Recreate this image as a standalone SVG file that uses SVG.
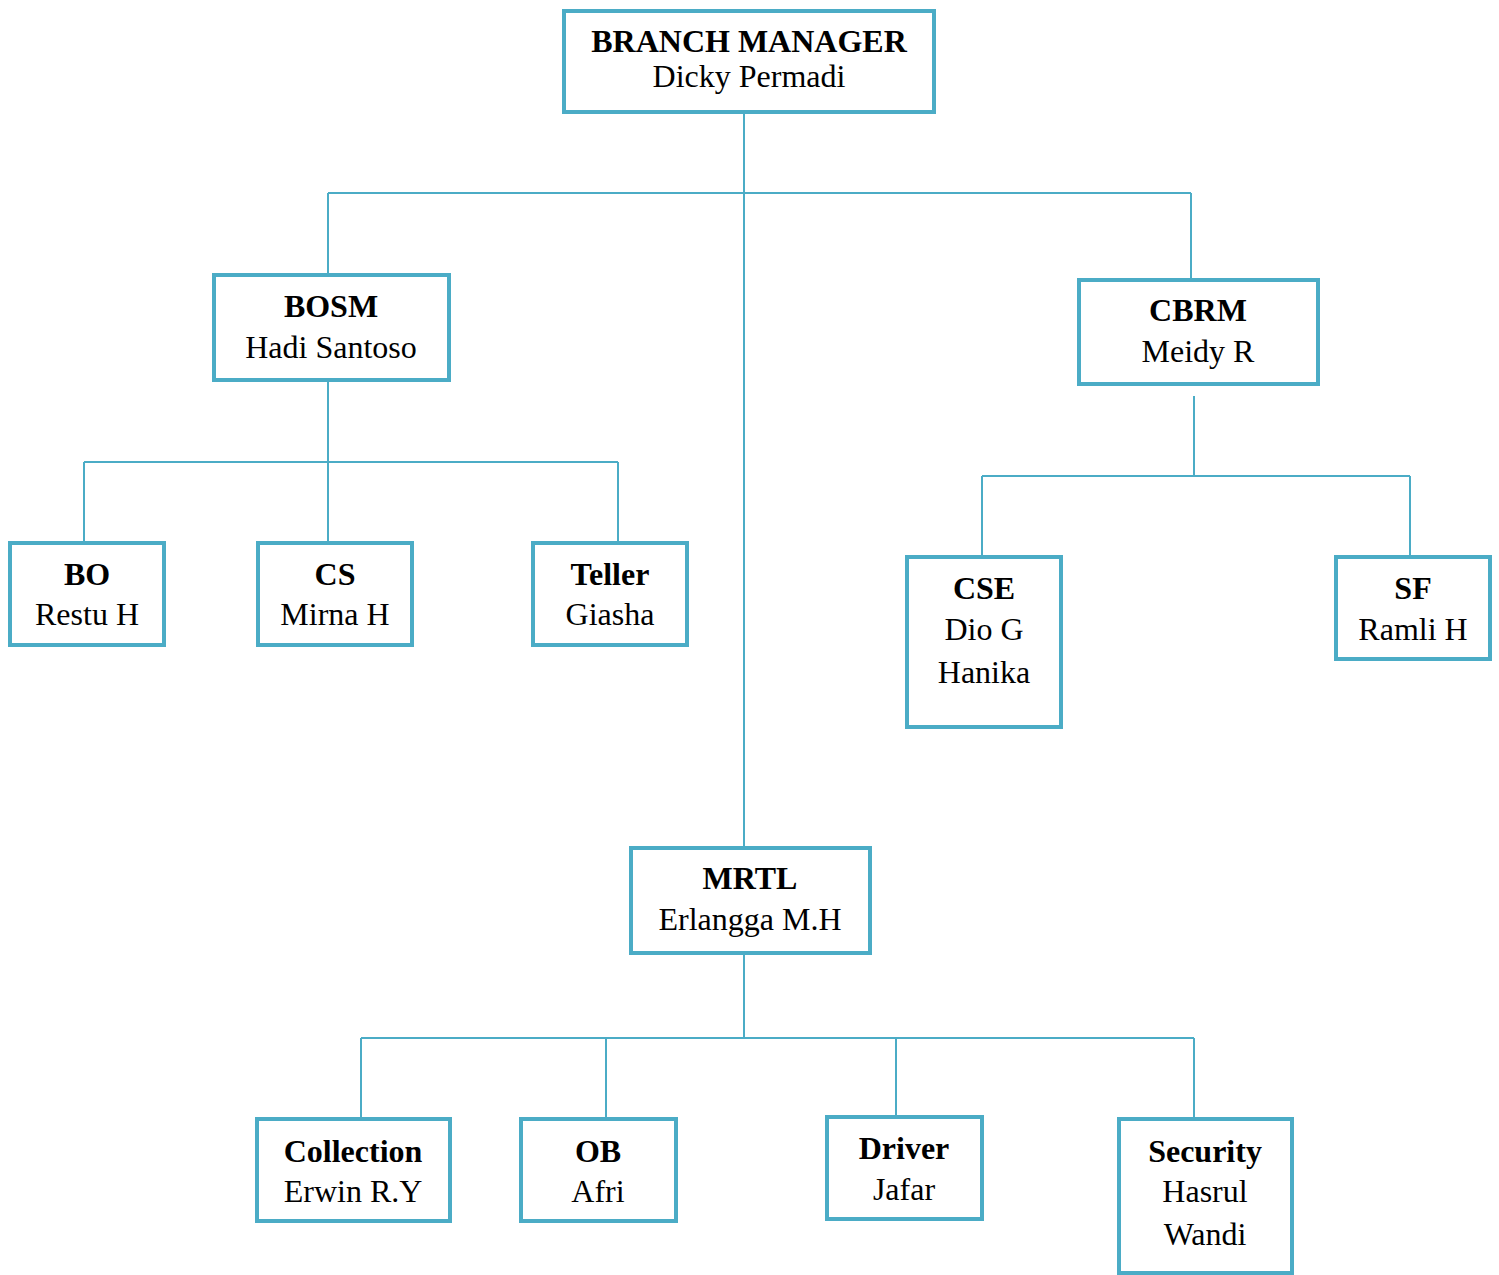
<svg xmlns="http://www.w3.org/2000/svg" width="1499" height="1275" viewBox="0 0 1499 1275">
<style>
.box{fill:#fff;stroke:#4BACC6;stroke-width:4}
.ln{stroke:#4BACC6;stroke-width:2;fill:none}
text{font-family:"Liberation Serif","Times New Roman",serif;font-size:32px;fill:#000;text-anchor:middle}
.b{font-weight:bold}
</style>
<rect width="1499" height="1275" fill="#fff"/>
<g id="connectors">
<path class="ln" d="M744 114V846M328 193H1191M328 193V273M1191 193V278M328 382V541M84 462H618M84 462V542M618 462V542M1194 396V476M982 476H1410M982 476V555M1410 476V555M744 955V1038M361 1038H1194M361 1038V1117M606 1038V1117M896 1038V1115M1194 1038V1117"/>
</g>
<g id="bm"><rect class="box" x="564" y="11" width="370" height="101"/><text class="b" x="749" y="52">BRANCH MANAGER</text><text x="749" y="87">Dicky Permadi</text></g>
<g id="bosm"><rect class="box" x="214" y="275" width="235" height="105"/><text class="b" x="331" y="317">BOSM</text><text x="331" y="358">Hadi Santoso</text></g>
<g id="cbrm"><rect class="box" x="1079" y="280" width="239" height="104"/><text class="b" x="1198" y="321">CBRM</text><text x="1198" y="362">Meidy R</text></g>
<g id="bo"><rect class="box" x="10" y="543" width="154" height="102"/><text class="b" x="87" y="585">BO</text><text x="87" y="625">Restu H</text></g>
<g id="cs"><rect class="box" x="258" y="543" width="154" height="102"/><text class="b" x="335" y="585">CS</text><text x="335" y="625">Mirna H</text></g>
<g id="teller"><rect class="box" x="533" y="543" width="154" height="102"/><text class="b" x="610" y="585">Teller</text><text x="610" y="625">Giasha</text></g>
<g id="cse"><rect class="box" x="907" y="557" width="154" height="170"/><text class="b" x="984" y="599">CSE</text><text x="984" y="640">Dio G</text><text x="984" y="683">Hanika</text></g>
<g id="sf"><rect class="box" x="1336" y="557" width="154" height="102"/><text class="b" x="1413" y="599">SF</text><text x="1413" y="640">Ramli H</text></g>
<g id="mrtl"><rect class="box" x="631" y="848" width="239" height="105"/><text class="b" x="750" y="889">MRTL</text><text x="750" y="930">Erlangga M.H</text></g>
<g id="collection"><rect class="box" x="257" y="1119" width="193" height="102"/><text class="b" x="353" y="1162">Collection</text><text x="353" y="1202">Erwin R.Y</text></g>
<g id="ob"><rect class="box" x="521" y="1119" width="155" height="102"/><text class="b" x="598" y="1162">OB</text><text x="598" y="1202">Afri</text></g>
<g id="driver"><rect class="box" x="827" y="1117" width="155" height="102"/><text class="b" x="904" y="1159">Driver</text><text x="904" y="1200">Jafar</text></g>
<g id="security"><rect class="box" x="1119" y="1119" width="173" height="154"/><text class="b" x="1205" y="1162">Security</text><text x="1205" y="1202">Hasrul</text><text x="1205" y="1245">Wandi</text></g>
</svg>
